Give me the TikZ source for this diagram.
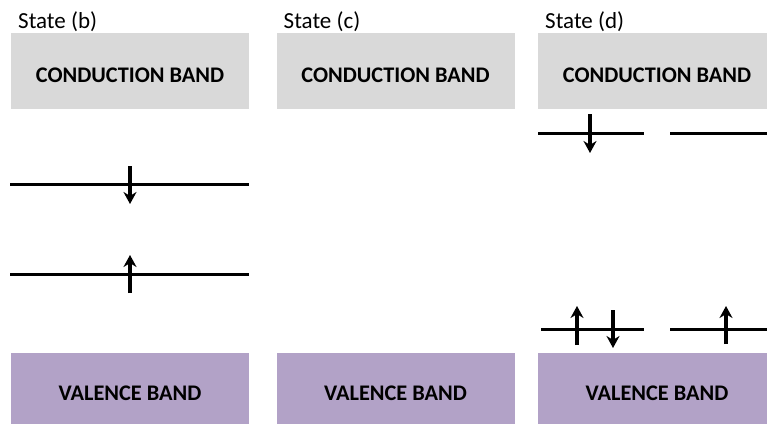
\documentclass[tikz,border=0pt]{standalone}
\usepackage{fontspec}
\setmainfont{Carlito}
\usetikzlibrary{arrows.meta, positioning}

\definecolor{cbgray}{HTML}{D9D9D9}
\definecolor{vbpurple}{HTML}{B2A2C7}

\tikzset{
  cband/.style={fill=cbgray, minimum width=238pt, minimum height=76pt, inner sep=0pt},
  vband/.style={fill=vbpurple, minimum width=238pt, minimum height=76pt, inner sep=0pt},
  bandtext/.style={inner sep=0pt, font=\fontsize{22.3}{26}\selectfont\bfseries},
  statetext/.style={anchor=west, inner sep=0pt, font=\fontsize{23}{27}\selectfont},
  level/.style={line width=3pt},
  spin/.style={line width=3.2pt, -{Stealth[length=12pt, width=13pt]}}
}

\begin{document}
\begin{tikzpicture}[x=1pt, y=-1pt]
  \useasboundingbox (0,0) rectangle (767,423);
  \clip (0,0) rectangle (767,423);

  % Bands, one column per state
  \foreach \st/\cx in {b/130, c/395.5, d/657} {
    \node[statetext] (title-\st) at (\cx-112, 22) {State (\st)};
    \node[cband] (cb-\st) at (\cx, 71) {};
    \node[bandtext] at ([yshift=-4pt]cb-\st.center) {CONDUCTION BAND};
    \node[vband] (vb-\st) at (\cx, 391) {};
    \node[bandtext] at ([yshift=-2pt]vb-\st.center) {VALENCE BAND};
  }

  % State (b): two levels, one electron each
  \draw[level] (10,184) -- (249,184);
  \draw[level] (10,274) -- (249,274);
  \draw[spin] (130,166) -- (130,204);
  \draw[spin] (130,293) -- (130,255);

  % State (d): split levels
  \draw[level] (538,133) -- (644,133);
  \draw[level] (670,133) -- (767,133);
  \draw[spin] (590,114) -- (590,153);
  \draw[level] (541,329) -- (644,329);
  \draw[level] (670,329) -- (767,329);
  \draw[spin] (577,345) -- (577,306);
  \draw[spin] (613,310) -- (613,348);
  \draw[spin] (726,344) -- (726,306);
\end{tikzpicture}
\end{document}
